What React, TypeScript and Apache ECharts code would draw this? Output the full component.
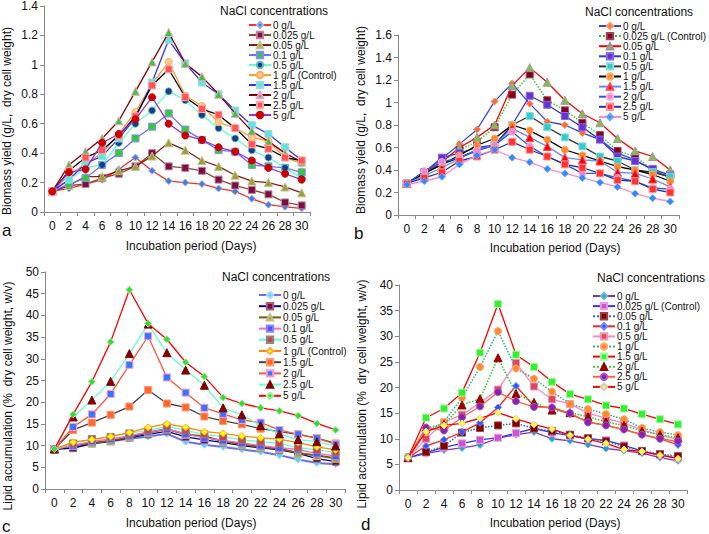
import React, { useEffect, useRef } from "react";
import * as echarts from "echarts";

const days = ["0","2","4","6","8","10","12","14","16","18","20","22","24","26","28","30"];

// Panel a: biomass yield (g/L)
const namesA = ["0 g/L","0.025 g/L","0.05 g/L","0.1 g/L","0.5 g/L","1 g/L (Control)","1.5 g/L","2 g/L","2.5 g/L","5 g/L"];
const a0 = [0.14,0.16,0.19,0.22,0.29,0.37,0.28,0.21,0.20,0.19,0.16,0.14,0.09,0.05,0.035,0.025];
const a1 = [0.14,0.18,0.19,0.23,0.26,0.31,0.40,0.31,0.30,0.28,0.22,0.18,0.15,0.12,0.065,0.045];
const a2 = [0.14,0.18,0.24,0.24,0.28,0.31,0.38,0.47,0.42,0.35,0.31,0.25,0.21,0.20,0.17,0.13];
const a3 = [0.14,0.19,0.23,0.32,0.40,0.50,0.58,0.67,0.56,0.49,0.42,0.41,0.32,0.31,0.30,0.27];
const a4 = [0.14,0.22,0.30,0.32,0.47,0.60,0.69,0.82,0.76,0.66,0.57,0.50,0.42,0.37,0.30,0.23];
const a5 = [0.14,0.25,0.33,0.40,0.53,0.68,0.87,1.02,0.79,0.72,0.61,0.57,0.51,0.48,0.37,0.33];
const a6 = [0.14,0.22,0.33,0.38,0.50,0.64,0.88,1.17,1.01,0.88,0.80,0.69,0.59,0.53,0.44,0.35];
const a7 = [0.14,0.32,0.41,0.50,0.62,0.82,1.02,1.22,1.01,0.92,0.80,0.67,0.55,0.48,0.40,0.34];
const a8 = [0.14,0.28,0.37,0.42,0.52,0.65,0.86,0.97,0.78,0.70,0.66,0.57,0.46,0.43,0.37,0.35];
const a9 = [0.14,0.27,0.29,0.47,0.53,0.63,0.78,0.60,0.52,0.49,0.44,0.41,0.35,0.30,0.26,0.22];

// Panel b: biomass yield (g/L)
const namesB = ["0 g/L","0.025 g/L (Control)","0.05 g/L","0.1 g/L","0.5 g/L","1 g/L","1.5 g/L","2 g/L","2.5 g/L","5 g/L"];
const b0 = [0.28,0.38,0.50,0.63,0.76,1.01,1.17,0.99,0.83,0.80,0.73,0.67,0.55,0.49,0.40,0.33];
const b1 = [0.28,0.38,0.47,0.58,0.65,0.78,1.07,1.25,1.02,0.93,0.82,0.71,0.57,0.52,0.40,0.36];
const b2 = [0.28,0.38,0.47,0.60,0.69,0.80,1.15,1.31,1.18,1.02,0.90,0.82,0.68,0.57,0.52,0.40];
const b3 = [0.28,0.38,0.51,0.55,0.60,0.62,0.80,1.06,0.98,0.88,0.78,0.67,0.52,0.48,0.41,0.35];
const b4 = [0.28,0.37,0.45,0.51,0.58,0.62,0.80,0.88,0.78,0.69,0.61,0.52,0.48,0.40,0.38,0.34];
const b5 = [0.28,0.37,0.45,0.53,0.62,0.68,0.80,0.75,0.67,0.58,0.53,0.48,0.43,0.40,0.36,0.30];
const b6 = [0.28,0.35,0.42,0.50,0.58,0.62,0.77,0.69,0.61,0.51,0.49,0.48,0.38,0.37,0.32,0.25];
const b7 = [0.28,0.39,0.47,0.51,0.57,0.62,0.74,0.61,0.52,0.45,0.37,0.37,0.33,0.30,0.24,0.23];
const b8 = [0.28,0.33,0.38,0.48,0.52,0.58,0.65,0.58,0.52,0.45,0.42,0.37,0.31,0.30,0.23,0.20];
const b9 = [0.27,0.30,0.34,0.45,0.53,0.58,0.51,0.47,0.41,0.37,0.33,0.29,0.25,0.19,0.15,0.12];

// Panel c: lipid accumulation (%)
const namesC = ["0 g/L","0.025 g/L","0.05 g/L","0.1 g/L","0.5 g/L","1 g/L (Control)","1.5 g/L","2 g/L","2.5 g/L","5 g/L"];
const c0 = [9.2,9.5,10.4,11.0,11.6,12.1,12.7,10.9,10.2,9.7,9.1,8.6,7.8,6.8,6.0,5.7];
const c1 = [9.2,9.4,10.5,11.0,11.8,12.6,13.3,12.0,11.3,10.7,10.0,9.5,9.0,8.2,7.0,6.3];
const c2 = [9.2,10.0,10.6,11.1,12.0,13.0,13.8,12.6,12.1,11.0,10.3,9.7,9.3,8.3,7.7,7.1];
const c3 = [9.2,10.0,11.0,11.5,12.3,13.1,13.8,12.7,11.8,11.2,10.6,10.0,9.5,9.1,8.2,7.6];
const c4 = [9.2,10.5,11.5,12.0,12.8,13.5,14.4,13.5,12.6,12.0,11.3,10.9,10.5,9.5,9.0,8.4];
const c5 = [9.2,10.8,11.4,12.1,13.0,14.2,15.0,14.2,13.2,12.8,12.2,11.8,11.5,10.7,9.7,9.0];
const c6 = [9.2,13.6,15.3,17.1,19.0,22.8,19.7,18.8,16.7,15.7,14.9,13.9,13.2,12.6,11.7,10.5];
const c7 = [9.2,14.3,17.2,21.9,28.6,35.2,25.7,22.2,18.7,17.3,15.9,15.3,13.6,12.6,11.7,10.3];
const c8 = [9.2,16.6,20.5,24.8,31.2,38.0,31.4,27.4,23.9,18.7,17.1,14.6,12.7,11.4,10.9,9.9];
const c9 = [9.2,17.2,24.7,33.9,45.9,38.1,34.5,29.2,25.9,21.1,19.7,18.7,18.0,16.9,15.1,13.6];

// Panel d: lipid accumulation (%)
const namesD = ["0 g/L","0.025 g/L (Control)","0.05 g/L","0.1 g/L","0.5 g/L","1 g/L","1.5 g/L","2 g/L","2.5 g/L","5 g/L"];
const d0 = [6.3,7.1,7.8,8.2,8.8,10.1,10.8,11.3,10.0,9.6,8.9,8.1,7.7,7.2,6.3,5.7];
const d1 = [6.3,7.3,8.3,9.1,9.8,10.2,11.1,12.0,11.2,10.6,10.0,9.7,8.7,7.6,6.8,6.2];
const d2 = [6.3,7.4,8.6,11.2,12.1,12.6,13.0,12.0,11.5,10.8,10.1,9.5,8.5,7.6,7.0,6.6];
const d3 = [6.3,8.6,9.8,11.3,13.1,16.1,20.3,16.4,16.0,14.8,13.3,12.6,11.8,10.8,10.0,8.8];
const d4 = [6.3,10.0,13.2,14.7,17.0,19.6,24.8,20.2,17.7,16.8,15.0,14.0,13.0,11.8,10.7,9.9];
const d5 = [6.3,11.3,13.3,18.0,24.0,31.0,23.7,21.7,19.2,16.8,15.8,14.8,13.8,12.1,11.3,10.7];
const d6 = [6.3,14.1,15.9,19.0,26.8,36.3,26.4,24.0,21.1,18.7,17.7,16.5,15.9,14.8,13.8,12.8];
const d7 = [6.3,12.1,12.8,16.6,17.8,25.8,18.8,17.1,15.6,15.1,14.3,13.3,12.6,11.5,10.8,10.2];
const d8 = [6.3,12.2,11.6,14.2,16.3,19.1,17.3,16.2,16.1,15.0,13.2,12.6,11.8,10.8,10.0,9.5];
const d9 = [6.3,11.4,12.6,13.0,14.0,15.1,13.9,12.8,11.9,10.7,9.9,9.1,7.9,7.5,6.8,6.1];

const dataA = [a0,a1,a2,a3,a4,a5,a6,a7,a8,a9];
const dataB = [b0,b1,b2,b3,b4,b5,b6,b7,b8,b9];
const dataC = [c0,c1,c2,c3,c4,c5,c6,c7,c8,c9];
const dataD = [d0,d1,d2,d3,d4,d5,d6,d7,d8,d9];

// styles: [lineColor, markerFill, symbol, markerBorder, lineType, lineWidth]
type St = [string, string, string, string, string, number];
const styleA: St[] = [
  ["#ff2a2a","#4a7bd6","diamond","#9ab4e8","solid",1.3],
  ["#8b4a2b","#7a1040","rect","#c080a0","solid",1.3],
  ["#8b1a1a","#9aa040","triangle","#c0c080","solid",1.3],
  ["#6f6fff","#33cc33","rect","#8888ff","solid",1.3],
  ["#66ffcc","#1a3a8a","circle","#55c0c0","solid",1.3],
  ["#ff9933","#ffcc88","circle","#ffaa55","solid",1.3],
  ["#3333ff","#66e0e0","rect","#99dddd","solid",1.3],
  ["#800000","#33cc33","triangle","#ff99cc","solid",1.3],
  ["#000000","#ff5555","rect","#ffaaaa","solid",1.3],
  ["#9933cc","#cc0000","circle","#cc0000","solid",1.3],
];
const styleB: St[] = [
  ["#3344ee","#ff6633","diamond","#ff9966","solid",1.3],
  ["#33cc33","#800020","rect","#a04060","dotted",1.5],
  ["#ff0000","#88bb55","triangle","#999999","solid",1.3],
  ["#3333cc","#6633cc","rect","#8866ee","solid",1.3],
  ["#333333","#33cccc","rect","#88dddd","solid",1.3],
  ["#000000","#ff8833","circle","#ffaa66","solid",1.3],
  ["#6688ff","#ff0000","triangle","#ff4444","solid",1.3],
  ["#3355dd","#ee88cc","circle","#ffaadd","solid",1.3],
  ["#2233aa","#ff3333","rect","#ff9999","solid",1.3],
  ["#ff88cc","#3388ff","diamond","#66aaff","solid",1.3],
];
const styleC: St[] = [
  ["#6a6aff","#66ccff","diamond","#99ddff","solid",2],
  ["#000080","#800040","rect","#a06080","solid",1.3],
  ["#7a5a10","#a0a040","triangle","#c0c080","solid",2],
  ["#ff66cc","#5555ee","rect","#8888ff","solid",1.3],
  ["#66ffcc","#cc4444","rect","#888888","solid",1.3],
  ["#ff8800","#ffff00","diamond","#ffaa44","solid",1.3],
  ["#444444","#ff6633","rect","#ff9966","solid",1.3],
  ["#ff5533","#3377ff","rect","#ff99cc","solid",1.3],
  ["#66ffcc","#800000","triangle","#800000","solid",1.3],
  ["#ff0000","#33dd33","diamond","#99ee99","solid",1.3],
];
const styleD: St[] = [
  ["#8833aa","#3399cc","diamond","#66bbdd","solid",1.3],
  ["#3333ff","#cc55cc","rect","#ee99ee","solid",1.3],
  ["#3366cc","#800000","rect","#a04040","dotted",1.5],
  ["#ff2222","#3355ff","diamond","#6688ff","solid",1.3],
  ["#ff88cc","#dd4466","rect","#ee99aa","solid",1.3],
  ["#33aa88","#ff8833","circle","#ffaa66","dotted",1.5],
  ["#ff0000","#33ee33","rect","#99ff99","solid",1.3],
  ["#33cc33","#990000","triangle","#990000","dotted",1.5],
  ["#ff6633","#8822aa","circle","#aa55cc","solid",1.3],
  ["#ff0000","#ffff33","diamond","#cccccc","solid",1.3],
];

const FONT = "Liberation Sans, Arial, sans-serif";

const grids = [
  { left: 44, top: 6, width: 266, height: 206 },
  { left: 398, top: 35, width: 281, height: 180 },
  { left: 45, top: 272, width: 300, height: 217 },
  { left: 399, top: 285, width: 288, height: 205 },
];
const yRanges = [
  { max: 1.4, interval: 0.2 },
  { max: 1.6, interval: 0.2 },
  { max: 50, interval: 5 },
  { max: 40, interval: 5 },
];
const legendPos = [
  { left: 248, top: 20, step: 10.3 },
  { left: 598, top: 21, step: 10.4 },
  { left: 258, top: 290, step: 11.5 },
  { left: 592, top: 291, step: 10.4 },
];

export default function App() {
  const ref = useRef<HTMLDivElement>(null);
  useEffect(() => {
    if (!ref.current) return;
    const chart = echarts.init(ref.current, undefined, { renderer: "svg" });
    const panels = [
      { key: "a", names: namesA, data: dataA, st: styleA },
      { key: "b", names: namesB, data: dataB, st: styleB },
      { key: "c", names: namesC, data: dataC, st: styleC },
      { key: "d", names: namesD, data: dataD, st: styleD },
    ];
    const series: any[] = [];
    const legends: any[] = [];
    panels.forEach((p, pi) => {
      p.names.forEach((n, i) => {
        const s = p.st[i];
        series.push({
          type: "line",
          name: p.key + "|" + n,
          xAxisIndex: pi,
          yAxisIndex: pi,
          data: p.data[i],
          symbol: s[2],
          symbolSize: s[2] === "triangle" ? 8 : 7,
          lineStyle: { color: s[0], width: s[5], type: s[4] },
          itemStyle: { color: s[1], borderColor: s[3], borderWidth: 1 },
          z: 2 + i,
        });
      });
      const lp = legendPos[pi];
      legends.push({
        orient: "vertical",
        left: lp.left,
        top: lp.top,
        itemWidth: 22,
        itemHeight: 8,
        itemGap: lp.step - 10.3,
        padding: 0,
        data: p.names.map((n) => p.key + "|" + n),
        formatter: (name: string) => name.split("|")[1],
        textStyle: { fontFamily: FONT, fontSize: 10, color: "#111", lineHeight: 10, padding: [0, 0, 0, -3] },
        selectedMode: false,
      });
    });
    const xAxes = grids.map((_, i) => ({
      type: "category",
      gridIndex: i,
      data: days,
      boundaryGap: true,
      axisLine: { lineStyle: { color: "#8a8a8a" } },
      axisTick: { show: true, length: 4, lineStyle: { color: "#8a8a8a" } },
      axisLabel: { fontFamily: FONT, fontSize: 12, color: "#111", margin: 8, interval: 0 },
    }));
    const yAxes = grids.map((_, i) => ({
      type: "value",
      gridIndex: i,
      min: 0,
      max: yRanges[i].max,
      interval: yRanges[i].interval,
      splitLine: { show: false },
      axisLine: { show: true, lineStyle: { color: "#8a8a8a" } },
      axisTick: { show: true, length: 4, lineStyle: { color: "#8a8a8a" } },
      axisLabel: { fontFamily: FONT, fontSize: 12, color: "#111", margin: 6 },
    }));
    const txt = (text: string, x: number, y: number, size: number, rot = 0, align = "center") => ({
      type: "text",
      x, y,
      rotation: rot,
      style: { text, fontFamily: FONT, fontSize: size, fill: "#111", align, verticalAlign: "middle" },
    });
    const graphic = [
      txt("NaCl concentrations", 220, 11, 12, 0, "left"),
      txt("NaCl concentrations", 585, 12, 12, 0, "left"),
      txt("NaCl concentrations", 222, 277, 12, 0, "left"),
      txt("NaCl concentrations", 597, 278, 12, 0, "left"),
      txt("Incubation period (Days)", 191, 246, 12),
      txt("Incubation period (Days)", 555, 248, 12),
      txt("Incubation period (Days)", 191, 523, 12),
      txt("Incubation period (Days)", 555, 523, 12),
      txt("Biomass yield (g/L,  dry cell weight)", 7, 121, 12, Math.PI / 2),
      txt("Biomass yield (g/L,  dry cell weight)", 361, 120, 12, Math.PI / 2),
      txt("Lipid accumulation (%  dry cell weight, w/v)", 8, 396, 12, Math.PI / 2),
      txt("Lipid accumulation (%  dry cell weight, w/v)", 362, 394, 12, Math.PI / 2),
      txt("a", 2, 230, 17, 0, "left"),
      txt("b", 354, 233, 17, 0, "left"),
      txt("c", 2, 526, 17, 0, "left"),
      txt("d", 361, 524, 17, 0, "left"),
    ];
    chart.setOption({
      animation: false,
      backgroundColor: "#ffffff",
      grid: grids,
      xAxis: xAxes,
      yAxis: yAxes,
      legend: legends,
      series,
      graphic,
    });
    return () => chart.dispose();
  }, []);
  return <div ref={ref} style={{ position: "fixed", left: 0, top: 0, width: 709, height: 534 }} />;
}
